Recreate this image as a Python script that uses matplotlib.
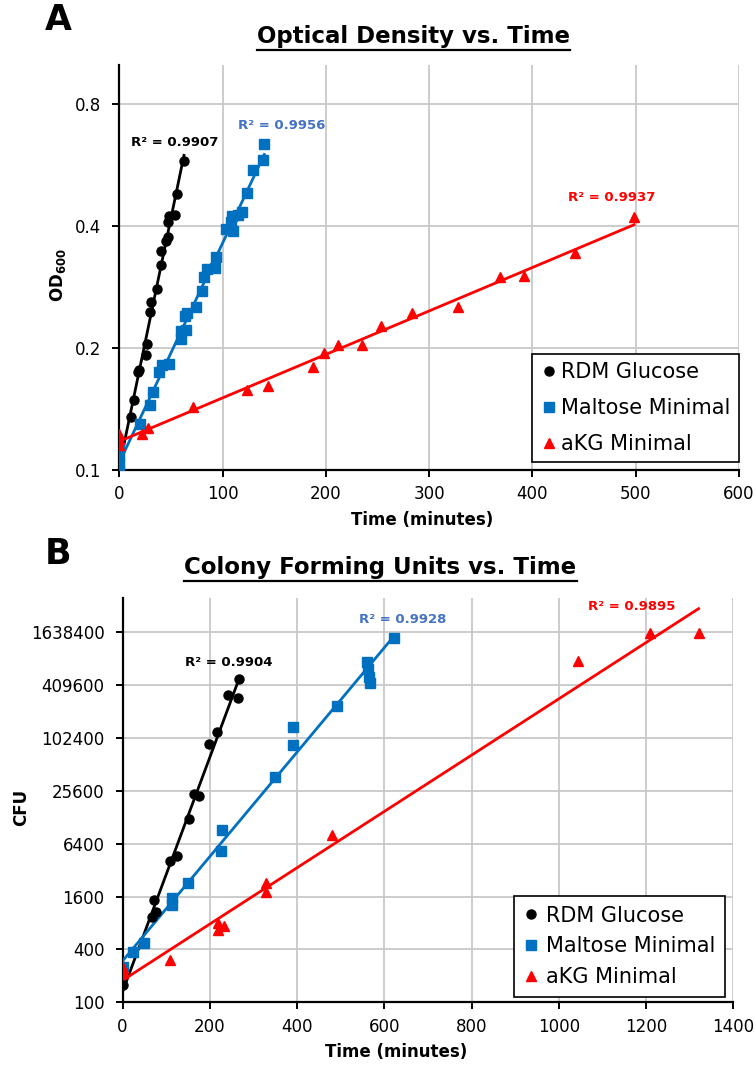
import numpy as np
import matplotlib
matplotlib.use("Agg")
import matplotlib.pyplot as plt
from matplotlib.ticker import NullLocator
from matplotlib.lines import Line2D

# ---- Optical density (OD600) vs time, minutes ----
rdm_od_t = [0, 10.8, 14, 17.6, 18.6, 25.4, 26.3, 29.2, 30.5, 36.6, 40.5, 40.2,
            45, 46.7, 47.3, 48, 53.8, 55.4, 62.5]
rdm_od = [0.100, 0.135, 0.149, 0.175, 0.177, 0.192, 0.2045, 0.245, 0.260, 0.280,
          0.320, 0.348, 0.368, 0.377, 0.409, 0.424, 0.425, 0.480, 0.578]

malt_od_t = [0, 0, 0, 0, 19.9, 29.6, 32.2, 38.6, 41.5, 48, 59.6, 59.6, 64.4, 63.5,
             65.7, 74.1, 80.2, 82.2, 84.8, 92.8, 93.5, 103.2, 107.7, 109.3, 110,
             114.5, 118.4, 123.5, 129, 139.4, 140.3]
malt_od = [0.100, 0.104, 0.108, 0.113, 0.130, 0.145, 0.156, 0.175, 0.182, 0.183,
           0.211, 0.220, 0.222, 0.240, 0.244, 0.253, 0.276, 0.300, 0.313, 0.316,
           0.335, 0.394, 0.409, 0.424, 0.390, 0.426, 0.433, 0.484, 0.549, 0.581,
           0.639]

akg_od_t = [0, 0, 0, 21.5, 28, 71.5, 123.3, 143.6, 187.5, 197.8, 211.2, 234.7,
            253.4, 283.4, 327.7, 368.7, 391.7, 440.7, 498.3]
akg_od = [0.123, 0.119, 0.115, 0.123, 0.127, 0.143, 0.158, 0.161, 0.180, 0.194,
          0.204, 0.204, 0.227, 0.244, 0.253, 0.300, 0.301, 0.343, 0.421]

od_r2 = ["0.9907", "0.9956", "0.9937"]
od_ticks = [0.1, 0.2, 0.4, 0.8]
od_ticklabels = ["0.1", "0.2", "0.4", "0.8"]

# ---- Colony forming units vs time, minutes ----
rdm_cfu_t = [0, 66.7, 72, 76.6, 108.7, 124, 153, 164.4, 175, 198.9, 215.8, 241,
             264, 267.7]
rdm_cfu = [157, 929, 1460, 1076, 4110, 4640, 12100, 23500, 22600, 87000, 121200,
           315700, 295400, 477800]

malt_cfu_t = [0, 24.6, 49.8, 112.6, 112.6, 149.3, 225.7, 227.3, 349.5, 391.5,
              391.5, 492.4, 559.8, 562, 565.8, 567.4, 623.2]
malt_cfu = [254, 377, 477, 1280, 1530, 2260, 5330, 9190, 36600, 85200, 137500,
            237600, 757700, 620000, 510100, 430000, 1396800]

akg_cfu_t = [0, 0, 108.7, 219.5, 219.5, 233.3, 329, 329, 479, 1043.8, 1209.6,
             1320.4]
akg_cfu = [244, 214, 303, 808, 667, 745, 2260, 1790, 8050, 773500, 1599800,
           1599800]

cfu_r2 = ["0.9904", "0.9928", "0.9895"]
cfu_ticks = [100, 400, 1600, 6400, 25600, 102400, 409600, 1638400]

series_names = ["RDM Glucose", "Maltose Minimal", "aKG Minimal"]
colors = ["black", "#0070C0", "#FF0000"]
r2_colors = ["black", "#4472C4", "#FF0000"]
markers = ["o", "s", "^"]
msizes = [6.5, 7, 7]

fig = plt.figure(figsize=(7.56, 10.65), dpi=100)
ax1 = fig.add_axes([0.158, 0.5587, 0.8195, 0.3803])
ax2 = fig.add_axes([0.1622, 0.0589, 0.8078, 0.3793])


def exp_fit_line(ax, t, y, color):
    # exponential trendline = straight line on the log axis
    t = np.asarray(t, float)
    k, b = np.polyfit(t, np.log(np.asarray(y, float)), 1)
    tt = np.linspace(t.min(), t.max(), 50)
    ax.plot(tt, np.exp(b + k * tt), color=color, lw=2.0, zorder=3)


def style_axes(ax, xmax, xstep, ylim, yticks, ylabels):
    ax.set_yscale("log")
    ax.set_xlim(0, xmax)
    ax.set_ylim(*ylim)
    ax.set_xticks(np.arange(0, xmax + 1, xstep))
    ax.set_yticks(yticks)
    ax.set_yticklabels(ylabels)
    ax.yaxis.set_minor_locator(NullLocator())
    ax.grid(True, color="#C8C8C8", lw=1.3, zorder=0)
    ax.set_axisbelow(True)
    for s in ["top", "right"]:
        ax.spines[s].set_visible(False)
    for s in ["left", "bottom"]:
        ax.spines[s].set_linewidth(1.6)
    ax.tick_params(axis="both", direction="out", length=5, width=1.4,
                   labelsize=12)
    ax.tick_params(axis="x", pad=6)
    ax.tick_params(axis="y", pad=8)


def draw_panel(ax, data, r2_vals, r2_pos):
    for i, (t, y) in enumerate(data):
        ax.plot(t, y, linestyle="none", marker=markers[i], ms=msizes[i],
                color=colors[i], mec=colors[i], label=series_names[i], zorder=4)
        exp_fit_line(ax, t, y, colors[i])
    for i, (px, py) in enumerate(r2_pos):
        ax.text(px, py, "R² = " + r2_vals[i], color=r2_colors[i],
                fontsize=9.5, fontweight="bold", ha="center", va="center")


draw_panel(ax1, [(rdm_od_t, rdm_od), (malt_od_t, malt_od), (akg_od_t, akg_od)],
           od_r2, [(53.8, 0.642), (157.5, 0.708), (477, 0.472)])
style_axes(ax1, 600, 100, (0.1, 1.0), od_ticks, od_ticklabels)

draw_panel(ax2, [(rdm_cfu_t, rdm_cfu), (malt_cfu_t, malt_cfu),
                 (akg_cfu_t, akg_cfu)],
           cfu_r2, [(243, 745000), (641, 2.32e6), (1168, 3.2e6)])
style_axes(ax2, 1400, 200, (100, 4.0e6), cfu_ticks,
           [str(v) for v in cfu_ticks])

leg_kw = dict(fontsize=15, frameon=True, fancybox=False, framealpha=1,
              edgecolor="black", borderaxespad=0, loc="lower right")
lg1 = ax1.legend(bbox_to_anchor=(1.0, 0.019), borderpad=0.4,
                 labelspacing=0.77, handlelength=0.8, handletextpad=0.2,
                 **leg_kw)
lg2 = ax2.legend(bbox_to_anchor=(0.9864, 0.0139), borderpad=0.45,
                 labelspacing=0.52, handlelength=0.75, handletextpad=0.34,
                 **leg_kw)
for lg in (lg1, lg2):
    lg.get_frame().set_linewidth(1.2)

# axis labels
fig.text(0.0767, 0.7418, r"OD$_{\mathbf{600}}$", rotation=90, fontsize=12,
         fontweight="bold", ha="center", va="center")
fig.text(0.5578, 0.5117, "Time (minutes)", fontsize=12, fontweight="bold",
         ha="center", va="center")
fig.text(0.0278, 0.2423, "CFU", rotation=90, fontsize=12, fontweight="bold",
         ha="center", va="center")
fig.text(0.5238, 0.0125, "Time (minutes)", fontsize=12, fontweight="bold",
         ha="center", va="center")

# panel letters
fig.text(0.0767, 0.981, "A", fontsize=25, fontweight="bold", ha="center",
         va="center")
fig.text(0.0767, 0.480, "B", fontsize=25, fontweight="bold", ha="center",
         va="center")

# underlined panel titles
t1 = fig.text(0.5476, 0.9653, "Optical Density vs. Time", fontsize=16.5,
              fontweight="bold", ha="center", va="center")
t2 = fig.text(0.5033, 0.4667, "Colony Forming Units vs. Time", fontsize=16.5,
              fontweight="bold", ha="center", va="center")
fig.canvas.draw()
renderer = fig.canvas.get_renderer()
for t in (t1, t2):
    bb = t.get_window_extent(renderer).transformed(fig.transFigure.inverted())
    y = bb.y0 - 0.0015
    fig.add_artist(Line2D([bb.x0, bb.x1], [y, y], transform=fig.transFigure,
                          color="black", lw=1.6))

fig.savefig("out.png", dpi=100)
